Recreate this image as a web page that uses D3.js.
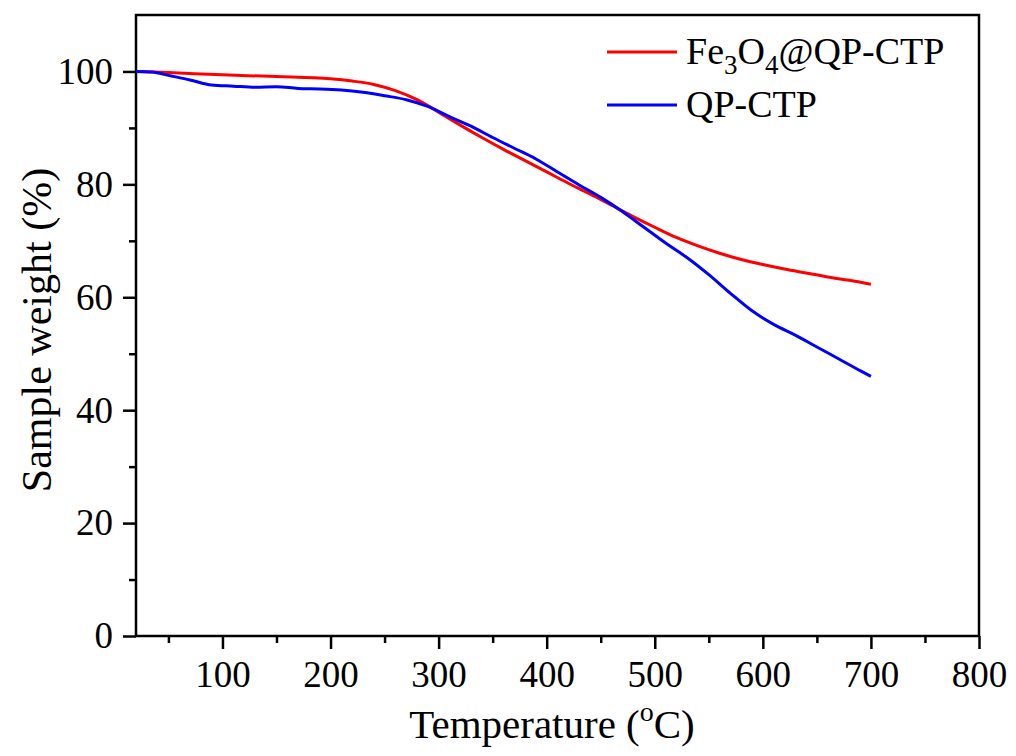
<!DOCTYPE html>
<html>
<head>
<meta charset="utf-8">
<script src="https://cdn.jsdelivr.net/npm/d3@7/dist/d3.min.js"></script>
<style>
  html, body { margin: 0; padding: 0; background: #fff; }
  svg { display: block; font-family: "Liberation Serif", "Times New Roman", serif; }
</style>
</head>
<body>
<svg id="chart" width="1016" height="756"></svg>
<script>
// TGA curves: temperature (°C) vs. remaining sample weight (%)
const fe3o4Temp = [20, 50, 100, 150, 200, 220, 240, 260, 280, 300, 320, 340, 360, 380, 400, 420, 440, 460, 480, 500, 520, 540, 560, 580, 600, 620, 640, 660, 680, 700];
const fe3o4Weight = [100.0, 99.8, 99.4, 99.1, 98.7, 98.3, 97.7, 96.6, 95.0, 92.8, 90.5, 88.3, 86.2, 84.2, 82.2, 80.2, 78.3, 76.3, 74.3, 72.4, 70.6, 69.1, 67.8, 66.7, 65.8, 65.0, 64.3, 63.6, 63.0, 62.3];

const qpTemp = [20, 35, 50, 70, 90, 110, 130, 150, 170, 190, 210, 230, 250, 270, 290, 310, 330, 350, 370, 390, 410, 430, 450, 470, 490, 510, 530, 550, 570, 590, 610, 630, 650, 670, 690, 700];
const qpWeight = [100.0, 99.9, 99.3, 98.5, 97.6, 97.4, 97.2, 97.3, 97.0, 96.9, 96.7, 96.3, 95.7, 95.0, 93.8, 92.0, 90.3, 88.3, 86.4, 84.5, 82.2, 79.9, 77.7, 75.2, 72.4, 69.6, 67.0, 64.0, 60.7, 57.6, 55.2, 53.3, 51.2, 49.1, 47.0, 46.0];

const xMajorTicks = [100, 200, 300, 400, 500, 600, 700, 800];
const xMinorTicks = [50, 150, 250, 350, 450, 550, 650, 750];
const yMajorTicks = [0, 20, 40, 60, 80, 100];
const yMinorTicks = [10, 30, 50, 70, 90];

const seriesNames = ["Fe3O4@QP-CTP", "QP-CTP"];
const seriesColors = ["#ff0000", "#0000ff"];

const svg = d3.select("#chart");
const plotLeft = 136, plotRight = 979, plotTop = 15, plotBottom = 636;
const fontSize = 37;

const x = d3.scaleLinear().domain([20, 800]).range([plotLeft, plotRight]);
const y = d3.scaleLinear().domain([0, 110]).range([plotBottom, plotTop]);

// Minor ticks
svg.append("g")
  .attr("transform", `translate(0,${plotBottom})`)
  .call(d3.axisBottom(x).tickValues(xMinorTicks).tickSize(7).tickFormat(""))
  .call(g => g.select(".domain").remove())
  .selectAll("line").attr("stroke", "#000").attr("stroke-width", 2.5);
svg.append("g")
  .attr("transform", `translate(${plotLeft},0)`)
  .call(d3.axisLeft(y).tickValues(yMinorTicks).tickSize(7).tickFormat(""))
  .call(g => g.select(".domain").remove())
  .selectAll("line").attr("stroke", "#000").attr("stroke-width", 2.5);

// Major ticks with labels
const xAxis = svg.append("g")
  .attr("transform", `translate(0,${plotBottom})`)
  .call(d3.axisBottom(x).tickValues(xMajorTicks).tickSize(13).tickPadding(12).tickSizeOuter(0));
xAxis.select(".domain").remove();
xAxis.selectAll("line").attr("stroke", "#000").attr("stroke-width", 2.5);
xAxis.selectAll("text")
  .attr("font-family", "Liberation Serif, Times New Roman, serif")
  .attr("font-size", fontSize).attr("fill", "#000");

const yAxis = svg.append("g")
  .attr("transform", `translate(${plotLeft},0)`)
  .call(d3.axisLeft(y).tickValues(yMajorTicks).tickSize(13).tickPadding(10).tickSizeOuter(0));
yAxis.select(".domain").remove();
yAxis.selectAll("line").attr("stroke", "#000").attr("stroke-width", 2.5);
yAxis.selectAll("text")
  .attr("font-family", "Liberation Serif, Times New Roman, serif")
  .attr("font-size", fontSize).attr("fill", "#000");

// Frame
svg.append("rect")
  .attr("x", plotLeft).attr("y", plotTop)
  .attr("width", plotRight - plotLeft).attr("height", plotBottom - plotTop)
  .attr("fill", "none").attr("stroke", "#000").attr("stroke-width", 2.5);

// Curves
const line = d3.line().curve(d3.curveMonotoneX).x(d => x(d[0])).y(d => y(d[1]));
const series = [
  d3.zip(fe3o4Temp, fe3o4Weight),
  d3.zip(qpTemp, qpWeight)
];
series.forEach((pts, i) => {
  svg.append("path")
    .datum(pts)
    .attr("d", line)
    .attr("fill", "none")
    .attr("stroke", seriesColors[i])
    .attr("stroke-width", 3)
    .attr("stroke-linejoin", "round");
});

// Legend
const legendSize = 38, subSize = 27;
const legend = svg.append("g");
const legendY = [52, 105];
legendY.forEach((ly, i) => {
  legend.append("line")
    .attr("x1", 607).attr("x2", 677).attr("y1", ly).attr("y2", ly)
    .attr("stroke", seriesColors[i]).attr("stroke-width", 3);
});
const t1 = legend.append("text")
  .attr("x", 686).attr("y", legendY[0] + 12)
  .attr("font-size", legendSize).attr("fill", "#000");
t1.append("tspan").text("Fe");
t1.append("tspan").attr("font-size", subSize).attr("dy", 10).text("3");
t1.append("tspan").attr("dy", -10).text("O");
t1.append("tspan").attr("font-size", subSize).attr("dy", 10).text("4");
t1.append("tspan").attr("dy", -10).text("@QP-CTP");
legend.append("text")
  .attr("x", 686).attr("y", legendY[1] + 12)
  .attr("font-size", legendSize).attr("fill", "#000")
  .text(seriesNames[1]);

// Axis titles
const xt = svg.append("text")
  .attr("x", 552).attr("y", 738)
  .attr("text-anchor", "middle")
  .attr("font-size", 41).attr("fill", "#000");
xt.append("tspan").text("Temperature (");
xt.append("tspan").attr("font-size", 28).attr("dy", -17).text("o");
xt.append("tspan").attr("dy", 17).text("C)");

svg.append("text")
  .attr("transform", `translate(51,330) rotate(-90)`)
  .attr("text-anchor", "middle")
  .attr("font-size", 42).attr("fill", "#000")
  .text("Sample weight (%)");
</script>
</body>
</html>
